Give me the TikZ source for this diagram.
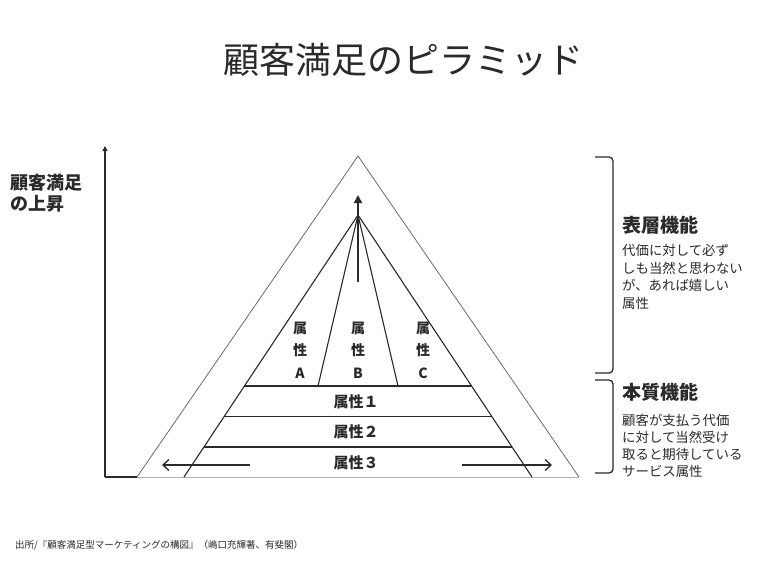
\documentclass[tikz,border=0pt]{standalone}
\usepackage{fontspec}
\setmainfont{Noto Sans CJK JP}
\usetikzlibrary{calc,arrows.meta}
\definecolor{ink}{HTML}{2A2A2A}
\definecolor{thin}{HTML}{6A6A6A}
\definecolor{base}{HTML}{B0B0B0}
\tikzset{
  outerline/.style={draw=thin,line width=0.8pt},
  innerline/.style={draw=ink,line width=1.1pt},
  axisline/.style={draw=ink,line width=1.4pt},
  bracket/.style={draw=ink,line width=1.3pt,rounded corners=4pt},
  lbl/.style={inner sep=0pt,text=ink,font=\bfseries\fontsize{14}{22.5}\selectfont,align=center},
  head/.style={inner sep=0pt,anchor=west,text=ink,font=\bfseries\fontsize{19}{22}\selectfont},
  desc/.style={inner sep=0pt,anchor=west,text=ink,align=left},
  sidearrow/.style={draw=ink,line width=1.3pt,-{Straight Barb[length=6pt,width=11pt,line width=1.3pt]}},
}
\begin{document}
\begin{tikzpicture}[x=1pt,y=-1pt]
\useasboundingbox (0,0) rectangle (765,565);
\fill[white] (0,0) rectangle (765,565);
% title
\node[inner sep=0pt,text=ink,font=\fontsize{36}{40}\selectfont] (title) at (403,60) {顧客満足のピラミッド};
% axis
\coordinate (Ax0) at (105,477);
\coordinate (AxTop) at (105,146);
\coordinate (AxEnd) at (137,477);
\draw[axisline,-{Triangle[length=5pt,width=5pt]}] (Ax0) -- (AxTop);
\draw[axisline] (Ax0) -- (AxEnd);
\node[inner sep=0pt,anchor=west,text=ink,align=left,font=\bfseries\fontsize{18}{20.5}\selectfont] (axlbl) at (10,193) {顧客満足\\の上昇};
% outer triangle
\coordinate (Otop) at (358,156);
\coordinate (Obl) at (137,477);
\coordinate (Obr) at (579,477);
\draw[base,line width=1pt] (AxEnd) -- (Obr);
\draw[outerline] (Obl) -- (Otop) -- (Obr);
% inner pyramid
\coordinate (Itop) at (358,215);
\coordinate (Ibl) at (184,477);
\coordinate (Ibr) at (532,477);
\draw[innerline] (Ibl) -- (Itop) -- (Ibr);
\foreach \t/\n in {0.6527/a,0.7691/b,0.8855/c}{
  \coordinate (L\n) at ($(Itop)!\t!(Ibl)$);
  \coordinate (R\n) at ($(Itop)!\t!(Ibr)$);
  \draw[innerline] (L\n) -- (R\n);
}
\coordinate (Bl) at (318,386);
\coordinate (Br) at (398,386);
\draw[innerline] (Bl) -- (Itop) -- (Br);
% centre arrow
\coordinate (Cs) at (358,282);
\coordinate (Ce) at (358,195);
\draw[innerline,line width=1.6pt,-{Triangle[length=8pt,width=8pt]}] (Cs) -- (Ce);
% side arrows
\coordinate (La) at (250,465);
\coordinate (Lb) at (162,465);
\coordinate (Ra) at (462,465);
\coordinate (Rb) at (552,465);
\draw[sidearrow] (La) -- (Lb);
\draw[sidearrow] (Ra) -- (Rb);
% labels
\node[lbl] (attA) at (300,350) {属\\性\\A};
\node[lbl] (attB) at (358,350) {属\\性\\B};
\node[lbl] (attC) at (423,350) {属\\性\\C};
\node[lbl,font=\bfseries\fontsize{15}{18}\selectfont] (att1) at (356,401.5) {属性１};
\node[lbl,font=\bfseries\fontsize{15}{18}\selectfont] (att2) at (356,432) {属性２};
\node[lbl,font=\bfseries\fontsize{15}{18}\selectfont] (att3) at (356,462.5) {属性３};
% brackets
\coordinate (U1) at (595,157);
\coordinate (U2) at (595,373);
\coordinate (D1) at (595,380);
\coordinate (D2) at (595,473);
\draw[bracket] (U1) -- (613,157) -- (613,373) -- (U2);
\draw[bracket] (D1) -- (613,380) -- (613,473) -- (D2);
% right texts
\node[head] (h1) at (622,225) {表層機能};
\node[desc,font=\fontsize{13.4}{17.7}\selectfont] (d1) at (622,277) {代価に対して必ず\\しも当然と思わない\\が、あれば嬉しい\\属性};
\node[head] (h2) at (622,392) {本質機能};
\node[desc,font=\fontsize{13.4}{17}\selectfont] (d2) at (622,445.5) {顧客が支払う代価\\に対して当然受け\\取ると期待している\\サービス属性};
% source
\node[inner sep=0pt,anchor=west,text=ink,font=\fontsize{9.5}{11}\selectfont] (src) at (15,545) {出所/『顧客満足型マーケティングの構図』（嶋口充輝著、有斐閣）};
\end{tikzpicture}
\end{document}
